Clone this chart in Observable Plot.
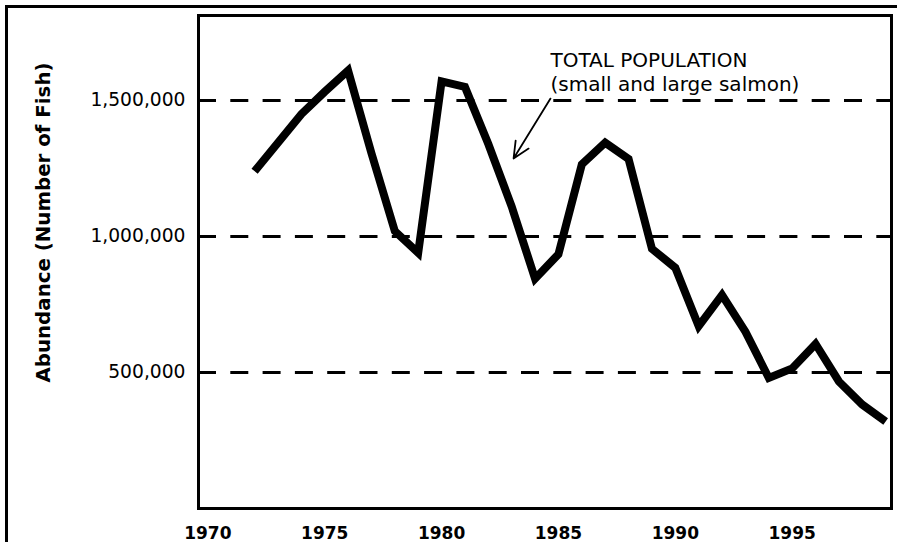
<!DOCTYPE html>
<html>
<head>
<meta charset="utf-8">
<script src="https://cdn.jsdelivr.net/npm/d3@7"></script>
<script src="https://cdn.jsdelivr.net/npm/@observablehq/plot@0.6"></script>
<style>
  html, body { margin: 0; padding: 0; background: #fff; overflow: hidden; }
  #wrap { position: relative; width: 897px; height: 542px; }
  #chart { position: absolute; left: 0; top: 0; }
  #border { position: absolute; left: 5px; top: 5px; width: 1000px; height: 1000px;
            border-left: 3px solid #000; border-top: 3px solid #000; pointer-events: none; }
</style>
</head>
<body>
<div id="wrap"><div id="chart"></div><div id="border"></div></div>
<script>
// ---- data ----
const years = [1972, 1973, 1974, 1975, 1976, 1977, 1978, 1979, 1980, 1981,
               1982, 1983, 1984, 1985, 1986, 1987, 1988, 1989, 1990, 1991,
               1992, 1993, 1994, 1995, 1996, 1997, 1998, 1999];
const abundance = [1240000, 1345000, 1450000, 1532000, 1610000, 1306000, 1020000, 940000, 1570000, 1550000,
                   1340000, 1110000, 845000, 935000, 1265000, 1345000, 1285000, 955000, 885000, 670000,
                   785000, 650000, 480000, 515000, 605000, 467000, 382000, 320000];
const xTicks = [1970, 1975, 1980, 1985, 1990, 1995];
const yTicks = [500000, 1000000, 1500000];
const yTitle = "Abundance (Number of Fish)";
const noteText = ["TOTAL POPULATION\n(small and large salmon)"];
const noteX = [1984.66];
const noteY = [1687500];
const arrowFrom = [1984.66, 1507000];
const arrowTo = [1983.08, 1286800];

const series = years.map((yr, i) => ({year: yr, value: abundance[i]}));

const chart = Plot.plot({
  width: 897,
  height: 542,
  marginLeft: 198,
  marginRight: 6,
  marginTop: 15,
  marginBottom: 34,
  style: {fontFamily: "DejaVu Sans", fontSize: "18.7px", background: "transparent", color: "#000"},
  x: {domain: [1969.6, 1999.25]},
  y: {domain: [0, 1812500]},
  marks: [
    Plot.ruleY(yTicks, {stroke: "#000", strokeWidth: 3, strokeDasharray: "18,14.3"}),
    Plot.frame({stroke: "#000", strokeWidth: 3}),
    Plot.axisX({ticks: xTicks, tickSize: 0, tickPadding: 18, tickFormat: d => String(d),
                fontSize: 17, fontWeight: "bold", label: null}),
    Plot.axisY({ticks: yTicks, tickSize: 0, tickPadding: 13, tickFormat: d3.format(","),
                fontSize: 18.7, fontWeight: 500, label: null}),
    Plot.text([yTitle], {frameAnchor: "left", textAnchor: "middle", lineAnchor: "middle",
                         dx: -155, dy: -39.5, rotate: -90,
                         fontSize: 19.8, fontWeight: "bold", fill: "#000"}),
    Plot.line(series, {x: "year", y: "value", stroke: "#000", strokeWidth: 8,
                       strokeLinejoin: "miter", strokeLinecap: "butt", strokeMiterlimit: 10}),
    Plot.text(noteText, {x: noteX, y: noteY, textAnchor: "start", lineAnchor: "top",
                         lineHeight: 1.2, fontSize: 20, fill: "#000"}),
    Plot.arrow([0], {x1: () => arrowFrom[0], y1: () => arrowFrom[1],
                     x2: () => arrowTo[0], y2: () => arrowTo[1],
                     stroke: "#000", strokeWidth: 1.8, headLength: 15, headAngle: 50})
  ]
});
document.getElementById("chart").appendChild(chart);
</script>
</body>
</html>
